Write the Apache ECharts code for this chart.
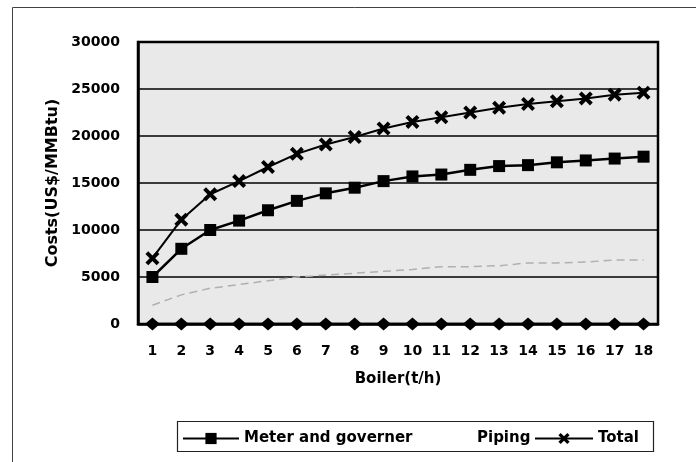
<!DOCTYPE html>
<html>
<head>
<meta charset="utf-8">
<script src="https://cdn.jsdelivr.net/npm/echarts@6/dist/echarts.min.js"></script>
<style>
html,body{margin:0;padding:0;background:#fff;}
#chart{width:696px;height:462px;}
</style>
</head>
<body>
<div id="chart"></div>
<script>
var categories = ['1','2','3','4','5','6','7','8','9','10','11','12','13','14','15','16','17','18'];
var meterGoverner = [5000, 8000, 10000, 11000, 12100, 13100, 13900, 14500, 15200, 15700, 15900, 16400, 16800, 16900, 17200, 17400, 17600, 17800];
var piping = [2000, 3100, 3800, 4200, 4600, 5000, 5200, 5400, 5600, 5800, 6100, 6100, 6200, 6500, 6500, 6600, 6800, 6800];
var total = [7000, 11100, 13800, 15200, 16700, 18100, 19100, 19900, 20800, 21500, 22000, 22500, 23000, 23400, 23700, 24000, 24400, 24600];
var baseline = [0, 0, 0, 0, 0, 0, 0, 0, 0, 0, 0, 0, 0, 0, 0, 0, 0, 0];
var yTicks = [0, 5000, 10000, 15000, 20000, 25000, 30000];

var FONT = 'DejaVu Sans';
var xSymbol = 'path://M0,2 L2,0 L5,3 L8,0 L10,2 L7,5 L10,8 L8,10 L5,7 L2,10 L0,8 L3,5 Z';

var chart = echarts.init(document.getElementById('chart'), null, {renderer: 'canvas'});
var legendText = {fontFamily: FONT, fontWeight: 'bold', fontSize: 15, color: '#000'};

chart.setOption({
  animation: false,
  backgroundColor: '#fff',
  graphic: [
    {type: 'rect', left: 10, top: 5, shape: {x: 0, y: 0, width: 700, height: 470},
     style: {fill: 'none', stroke: '#444', lineWidth: 1}, silent: true},
    {type: 'rect', left: 175, top: 419, shape: {x: 0, y: 0, width: 476, height: 30},
     style: {fill: 'none', stroke: '#222', lineWidth: 1.2}, silent: true}
  ],
  grid: {left: 138, top: 42, right: 38, bottom: 138, show: true,
         backgroundColor: '#e9e9e9', borderColor: '#000', borderWidth: 2.5},
  legend: [
    {data: ['Meter and governer'], left: 177, top: 426, itemWidth: 56, itemHeight: 14, textStyle: legendText},
    {data: ['Piping'], left: 410, top: 426, itemWidth: 56, itemHeight: 14, textStyle: legendText,
     itemStyle: {opacity: 0}, lineStyle: {opacity: 0}},
    {data: ['Total'], left: 529, top: 426, itemWidth: 58, itemHeight: 14, textStyle: legendText}
  ],
  xAxis: {
    type: 'category', data: categories, boundaryGap: true,
    name: 'Boiler(t/h)', nameLocation: 'middle', nameGap: 48,
    nameTextStyle: {fontFamily: FONT, fontWeight: 'bold', fontSize: 15, color: '#000'},
    axisLine: {show: true, lineStyle: {color: '#000', width: 2.5}},
    axisTick: {show: false},
    axisLabel: {margin: 20, fontFamily: FONT, fontWeight: 'bold', fontSize: 14, color: '#000'},
    splitLine: {show: false}
  },
  yAxis: {
    type: 'value', min: yTicks[0], max: yTicks[yTicks.length - 1], interval: 5000,
    name: 'Costs(US$/MMBtu)', nameLocation: 'middle', nameGap: 73, nameRotate: 90,
    nameTextStyle: {fontFamily: FONT, fontWeight: 'bold', fontSize: 16, color: '#000'},
    axisLine: {show: true, lineStyle: {color: '#000', width: 2.5}},
    axisTick: {show: false},
    axisLabel: {margin: 18, fontFamily: FONT, fontWeight: 'bold', fontSize: 14, color: '#000',
                formatter: function (v) { return String(v); }},
    splitLine: {show: true, lineStyle: {color: '#000', width: 1.5}}
  },
  series: [
    {name: 'base', type: 'line', data: baseline, symbol: 'diamond', symbolSize: [15, 13],
     itemStyle: {color: '#000'}, lineStyle: {color: '#000', width: 2.5}, z: 3},
    {name: 'Meter and governer', type: 'line', data: meterGoverner, symbol: 'rect', symbolSize: 12,
     itemStyle: {color: '#000'}, lineStyle: {color: '#000', width: 2.5}, z: 4},
    {name: 'Piping', type: 'line', data: piping, symbol: 'none',
     itemStyle: {color: '#b0b0b0'}, lineStyle: {color: '#b0b0b0', width: 1.5, type: [8, 5]}, z: 2},
    {name: 'Total', type: 'line', data: total, symbol: xSymbol, symbolSize: 14,
     itemStyle: {color: '#000'}, lineStyle: {color: '#000', width: 2}, z: 4}
  ]
});
</script>
</body>
</html>
